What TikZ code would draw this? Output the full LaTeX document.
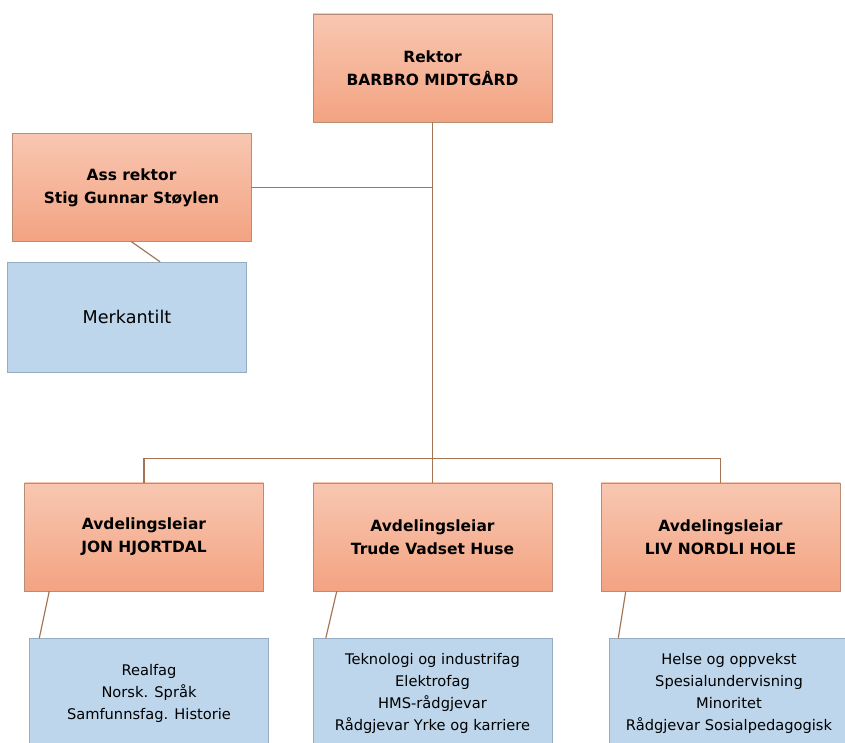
\documentclass[tikz,border=0pt]{standalone}
\usepackage{fontspec}
\setmainfont{DejaVu Sans}
\usetikzlibrary{positioning}
\definecolor{bossTop}{RGB}{248,199,177}
\definecolor{bossBottom}{RGB}{243,163,130}
\definecolor{bossEdge}{RGB}{185,140,118}
\definecolor{unitFill}{RGB}{189,214,236}
\definecolor{unitEdge}{RGB}{150,172,194}
\definecolor{lineBrown}{RGB}{163,117,82}
\tikzset{
    boss/.style={draw=bossEdge, top color=bossTop, bottom color=bossBottom,
        minimum width=7.17cm, minimum height=3.24cm, align=center,
        font=\fontsize{13.2}{19.5}\selectfont\bfseries},
    unit/.style={draw=unitEdge, fill=unitFill,
        minimum width=7.17cm, minimum height=3.3cm, align=center,
        font=\fontsize{12.5}{19}\selectfont},
    link/.style={draw=lineBrown, line width=1pt}
}

\begin{document}
\begin{tikzpicture}
    % Page frame, boxes at the bottom are cut off by it
    \clip (0,0) rectangle (25.35,22.26);

    % Leaders
    \node[boss] (rektor) at (12.975,20.22) {Rektor\\BARBRO MIDTGÅRD};
    \node[boss] (ass) at (3.945,16.635) {Ass rektor\\Stig Gunnar Støylen};
    \node[unit] (merk) at (3.81,12.75) {\fontsize{15}{19}\selectfont Merkantilt};

    % Department leaders
    \node[boss] (avdA) at (4.32,6.15) {Avdelingsleiar\\JON HJORTDAL};
    \node[boss] (avdB) at (12.975,6.15) {Avdelingsleiar\\Trude Vadset Huse};
    \node[boss] (avdC) at (21.615,6.15) {Avdelingsleiar\\LIV NORDLI HOLE};

    % Departments
    \node[unit] (fagA) at (4.47,1.455) {Realfag\\Norsk. Språk\\Samfunnsfag. Historie};
    \node[unit] (fagB) at (12.975,1.455) {Teknologi og industrifag\\Elektrofag\\HMS-rådgjevar\\Rådgjevar Yrke og karriere};
    \node[unit] (fagC) at (21.87,1.455) {Helse og oppvekst\\Spesialundervisning\\Minoritet\\Rådgjevar Sosialpedagogisk};

    % Connectors
    \draw[link] (rektor.south) -- (avdB.north);
    \draw[link] (ass.east) -- (ass.east -| rektor.south);
    \draw[link] (ass.south) -- ([xshift=0.99cm]merk.north);
    \draw[link] (avdA.north) -- ++(0,0.72) -| (avdC.north);
    \draw[link] ([xshift=0.75cm]avdA.south west) -- ([xshift=0.3cm]fagA.north west);
    \draw[link] ([xshift=0.72cm]avdB.south west) -- ([xshift=0.39cm]fagB.north west);
    \draw[link] ([xshift=0.75cm]avdC.south west) -- ([xshift=0.27cm]fagC.north west);
\end{tikzpicture}
\end{document}
